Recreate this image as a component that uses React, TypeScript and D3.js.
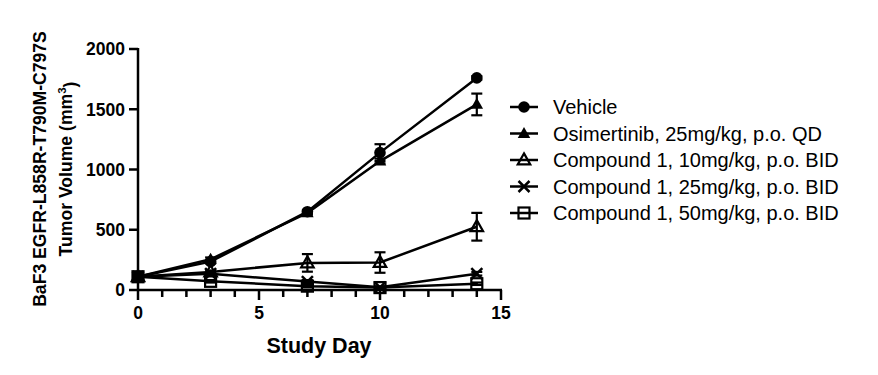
import React from "react";
import * as d3 from "d3";

const days = [0, 3, 7, 10, 14];
const seriesNames = [
  "Vehicle",
  "Osimertinib, 25mg/kg, p.o. QD",
  "Compound 1, 10mg/kg, p.o. BID",
  "Compound 1, 25mg/kg, p.o. BID",
  "Compound 1, 50mg/kg, p.o. BID",
];
const markerKinds = ["circle", "triFilled", "triOpen", "cross", "squareOpen"];
const vehicle = [110, 235, 650, 1140, 1760];
const vehicleErr = [8, 15, 15, 70, 15];
const osimertinib = [110, 255, 640, 1070, 1540];
const osimertinibErr = [8, 15, 15, 20, 90];
const cmpd10 = [110, 150, 225, 228, 525];
const cmpd10Err = [8, 12, 73, 85, 115];
const cmpd25 = [110, 135, 70, 22, 135];
const cmpd25Err = [8, 10, 12, 8, 15];
const cmpd50 = [110, 72, 32, 20, 52];
const cmpd50Err = [8, 10, 10, 8, 10];
const seriesValues = [vehicle, osimertinib, cmpd10, cmpd25, cmpd50];
const seriesErrors = [vehicleErr, osimertinibErr, cmpd10Err, cmpd25Err, cmpd50Err];
const xTicks = [0, 5, 10, 15];
const xMinorTicks = d3.range(0, 16);
const yTicks = [0, 500, 1000, 1500, 2000];

const FONT = "'Liberation Sans', Arial, Helvetica, sans-serif";

function Marker({ kind, cx, cy }: { kind: string; cx: number; cy: number }) {
  const sw = 2.2;
  if (kind === "circle") return <circle cx={cx} cy={cy} r={5.8} fill="#000" />;
  if (kind === "triFilled" || kind === "triOpen") {
    const h = 11, w = 12.5;
    const pts = `${cx},${cy - h * 0.6} ${cx + w / 2},${cy + h * 0.4} ${cx - w / 2},${cy + h * 0.4}`;
    return kind === "triFilled" ? (
      <polygon points={pts} fill="#000" />
    ) : (
      <polygon points={pts} fill="none" stroke="#000" strokeWidth={sw} strokeLinejoin="miter" />
    );
  }
  if (kind === "cross") {
    const s = 5.5;
    return (
      <g stroke="#000" strokeWidth={2.5}>
        <line x1={cx - s} y1={cy - s} x2={cx + s} y2={cy + s} />
        <line x1={cx - s} y1={cy + s} x2={cx + s} y2={cy - s} />
      </g>
    );
  }
  const s = 11;
  return <rect x={cx - s / 2} y={cy - s / 2} width={s} height={s} fill="none" stroke="#000" strokeWidth={sw} />;
}

export default function App() {
  const x = d3.scaleLinear().domain([0, 15]).range([138, 501]);
  const y = d3.scaleLinear().domain([0, 2000]).range([290, 49]);
  const line = d3
    .line<number>()
    .x((_, i) => x(days[i]))
    .y((d) => y(d));

  const legendX = 510;
  const legendY0 = 107;
  const legendDy = 26.5;

  return (
    <svg
      width={878}
      height={375}
      style={{ position: "absolute", left: 0, top: 0, background: "#fff" }}
      fontFamily={FONT}
    >
      <rect width={878} height={375} fill="#fff" />
      {/* axes */}
      <g stroke="#000" strokeWidth={2.5} fill="none">
        <line x1={x(0)} y1={y(2000) - 1} x2={x(0)} y2={y(0)} />
        <line x1={x(0)} y1={y(0)} x2={x(15) + 1} y2={y(0)} />
        {yTicks.map((t) => (
          <line key={"yt" + t} x1={x(0) - 9} y1={y(t)} x2={x(0)} y2={y(t)} />
        ))}
        {xMinorTicks.map((t) => (
          <line
            key={"xt" + t}
            x1={x(t)}
            y1={y(0)}
            x2={x(t)}
            y2={y(0) + (xTicks.includes(t) ? 10 : 7)}
          />
        ))}
      </g>
      {yTicks.map((t) => (
        <text
          key={"yl" + t}
          x={x(0) - 13}
          y={y(t)}
          dy="0.36em"
          textAnchor="end"
          fontSize={17.5}
          fontWeight="bold"
        >
          {t}
        </text>
      ))}
      {xTicks.map((t) => (
        <text
          key={"xl" + t}
          x={x(t)}
          y={y(0) + 23}
          dy="0.36em"
          textAnchor="middle"
          fontSize={17.5}
          fontWeight="bold"
        >
          {t}
        </text>
      ))}
      <text x={319} y={345} textAnchor="middle" fontSize={21.5} fontWeight="bold" dy="0.36em">
        Study Day
      </text>
      <g transform={`translate(40, ${169}) rotate(-90)`}>
        <text textAnchor="middle" fontSize={17.6} fontWeight="bold" dy="0.36em">
          BaF3 EGFR-L858R-T790M-C797S
        </text>
        <text y={26} textAnchor="middle" fontSize={17.6} fontWeight="bold" dy="0.36em">
          Tumor Volume (mm
          <tspan dy="-0.55em" fontSize={11.5}>3</tspan>
          <tspan dy="0.55em">)</tspan>
        </text>
      </g>
      {/* series lines */}
      {seriesValues.map((vals, si) => (
        <path key={"l" + si} d={line(vals) || ""} fill="none" stroke="#000" strokeWidth={2.5} />
      ))}
      {/* error bars */}
      {seriesValues.map((vals, si) => (
        <g key={"e" + si} stroke="#000" strokeWidth={2.2}>
          {vals.map((v, i) => {
            const e = seriesErrors[si][i];
            const cx = x(days[i]);
            return (
              <g key={i}>
                <line x1={cx} y1={y(v - e)} x2={cx} y2={y(v + e)} />
                <line x1={cx - 5.5} y1={y(v + e)} x2={cx + 5.5} y2={y(v + e)} />
                <line x1={cx - 5.5} y1={y(v - e)} x2={cx + 5.5} y2={y(v - e)} />
              </g>
            );
          })}
        </g>
      ))}
      {/* markers */}
      {seriesValues.map((vals, si) => (
        <g key={"m" + si}>
          {vals.map((v, i) => (
            <Marker key={i} kind={markerKinds[si]} cx={x(days[i])} cy={y(v)} />
          ))}
        </g>
      ))}
      {/* legend */}
      {seriesNames.map((name, si) => {
        const ly = legendY0 + si * legendDy;
        return (
          <g key={"lg" + si}>
            <line x1={legendX} y1={ly} x2={legendX + 28} y2={ly} stroke="#000" strokeWidth={2.5} />
            <Marker kind={markerKinds[si]} cx={legendX + 14} cy={ly} />
            <text x={legendX + 43} y={ly} dy="0.36em" fontSize={20}>
              {name}
            </text>
          </g>
        );
      })}
    </svg>
  );
}
